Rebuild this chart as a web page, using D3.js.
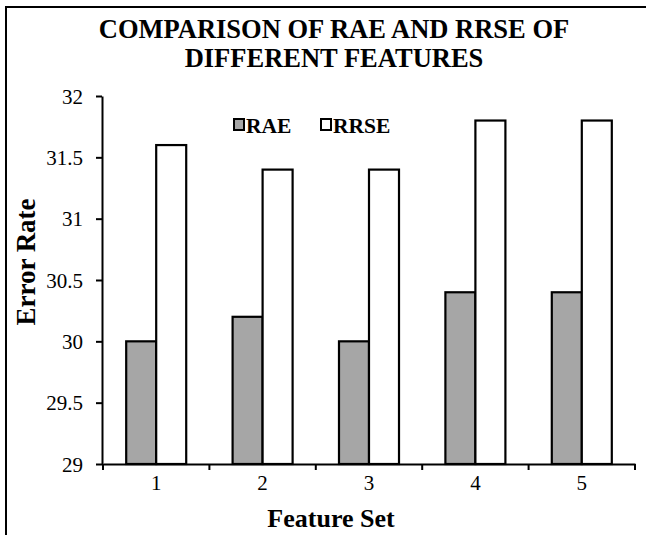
<!DOCTYPE html>
<html>
<head>
<meta charset="utf-8">
<script src="https://cdn.jsdelivr.net/npm/d3@7"></script>
<style>
  html, body { margin: 0; padding: 0; background: #fff; }
  svg { display: block; }
  text { font-family: "Liberation Serif", "Times New Roman", serif; fill: #000; }
</style>
</head>
<body>
<svg id="chart" width="646" height="535"></svg>
<script>
const categories = ["1", "2", "3", "4", "5"];
const seriesNames = ["RAE", "RRSE"];
const raeValues = [30, 30.2, 30, 30.4, 30.4];
const rrseValues = [31.6, 31.4, 31.4, 31.8, 31.8];
const yTickValues = [29, 29.5, 30, 30.5, 31, 31.5, 32];
const seriesColors = ["#a6a6a6", "#ffffff"];
const titleLines = ["COMPARISON OF RAE AND RRSE OF", "DIFFERENT FEATURES"];

const serif = '"Liberation Serif", "Times New Roman", serif';
const svg = d3.select("#chart");

// outer frame (top and left edges visible)
svg.append("line").attr("x1", 6).attr("y1", 7).attr("x2", 646).attr("y2", 7)
  .attr("stroke", "#000").attr("stroke-width", 2);
svg.append("line").attr("x1", 6).attr("y1", 6).attr("x2", 6).attr("y2", 535)
  .attr("stroke", "#000").attr("stroke-width", 2);

const plotLeft = 102, plotRight = 635, plotTop = 96, plotBottom = 464;

const x = d3.scaleBand().domain(categories).range([plotLeft + 1, plotRight]).paddingInner(0).paddingOuter(0);
const xs = d3.scaleBand().domain(seriesNames).range([0, x.bandwidth()]).paddingInner(0).paddingOuter(0.773);
const y = d3.scaleLinear().domain([29, 32]).range([plotBottom, plotTop]);

const data = categories.map((c, i) => ({ cat: c, values: [raeValues[i], rrseValues[i]] }));

// bars
const groups = svg.append("g").selectAll("g").data(data).join("g")
  .attr("transform", d => `translate(${x(d.cat)},0)`);
groups.selectAll("rect").data(d => d.values.map((v, j) => ({ key: seriesNames[j], v, j })))
  .join("rect")
  .attr("x", d => xs(d.key))
  .attr("y", d => y(d.v))
  .attr("width", xs.bandwidth())
  .attr("height", d => y(29) - y(d.v))
  .attr("fill", d => seriesColors[d.j])
  .attr("stroke", "#000")
  .attr("stroke-width", 2.2);

// y axis
const yAxis = svg.append("g").attr("transform", `translate(${plotLeft},0)`)
  .call(d3.axisLeft(y).tickValues(yTickValues).tickFormat(d => String(d)).tickSize(6).tickSizeOuter(0).tickPadding(13));
yAxis.attr("font-family", null).attr("font-size", null);
yAxis.select(".domain").attr("stroke", "#000").attr("stroke-width", 2);
yAxis.selectAll(".tick line").attr("stroke", "#000").attr("stroke-width", 2);
yAxis.selectAll(".tick text").style("font-family", serif).style("font-size", "21px").attr("dy", "0.34em");

// x axis
const xAxis = svg.append("g").attr("transform", `translate(0,${plotBottom})`)
  .call(d3.axisBottom(x).tickSize(0).tickSizeOuter(0).tickPadding(0));
xAxis.attr("font-family", null).attr("font-size", null);
xAxis.select(".domain").attr("stroke", "#000").attr("stroke-width", 2);
xAxis.selectAll(".tick text").style("font-family", serif).style("font-size", "21px")
  .attr("y", 26).attr("dy", 0);
// boundary ticks
const boundaries = categories.map(c => x(c)).concat([x(categories[categories.length - 1]) + x.step()]);
xAxis.selectAll(".bt").data(boundaries).join("line").attr("class", "bt")
  .attr("x1", d => d).attr("x2", d => d).attr("y1", 0).attr("y2", 6)
  .attr("stroke", "#000").attr("stroke-width", 2);

// title
svg.append("text").attr("x", 334).attr("y", 38).attr("text-anchor", "middle")
  .style("font-size", "26.5px").attr("font-weight", "bold").text(titleLines[0]);
svg.append("text").attr("x", 334).attr("y", 67).attr("text-anchor", "middle")
  .style("font-size", "26.5px").attr("font-weight", "bold").text(titleLines[1]);

// axis titles
svg.append("text").attr("transform", "translate(35,262) rotate(-90)").attr("text-anchor", "middle")
  .style("font-size", "27px").attr("font-weight", "bold").text("Error Rate");
svg.append("text").attr("x", 331).attr("y", 527).attr("text-anchor", "middle")
  .style("font-size", "26px").attr("font-weight", "bold").text("Feature Set");

// legend
const legendItems = [{ x: 234, tx: 246 }, { x: 321, tx: 333 }];
seriesNames.forEach((name, i) => {
  svg.append("rect").attr("x", legendItems[i].x).attr("y", 119).attr("width", 10).attr("height", 11)
    .attr("fill", seriesColors[i]).attr("stroke", "#000").attr("stroke-width", 2);
  svg.append("text").attr("x", legendItems[i].tx).attr("y", 133)
    .style("font-size", "21.5px").attr("font-weight", "bold").text(name);
});
</script>
</body>
</html>
